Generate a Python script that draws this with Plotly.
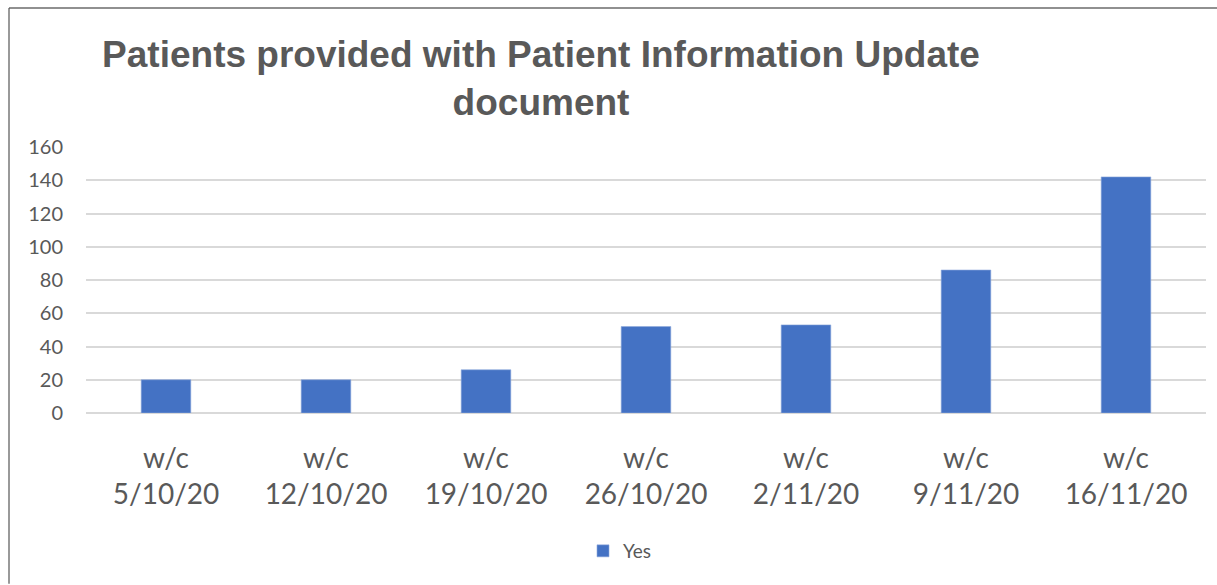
import plotly.graph_objects as go

categories = ["w/c<br>5/10/20", "w/c<br>12/10/20", "w/c<br>19/10/20", "w/c<br>26/10/20",
              "w/c<br>2/11/20", "w/c<br>9/11/20", "w/c<br>16/11/20"]
yes_values = [20, 20, 26, 52, 53, 86, 142]
y_ticks = [0, 20, 40, 60, 80, 100, 120, 140, 160]

W, H = 1217, 585
L, R, T, B = 86, 11, 146.5, 171.5
pw, ph = W - L - R, H - T - B

fig = go.Figure()
fig.add_trace(go.Bar(
    x=categories, y=yes_values, name="Yes",
    marker=dict(color="#4472C4", line=dict(color="#8EA9DB", width=0.6)),
    width=0.31,
))

def px_x(x):
    return (x - L) / pw

def px_y(y):
    return (H - B - y) / ph

fig.update_layout(
    width=W, height=H,
    margin=dict(l=L, r=R, t=T, b=B),
    paper_bgcolor="white", plot_bgcolor="white",
    font=dict(family="Lato", color="#595959"),
    title=dict(
        text="Patients provided with Patient Information Update<br>document",
        font=dict(family="Liberation Sans", size=37, color="#595959", weight="bold"),
        x=541 / W, xanchor="center", xref="container",
        y=1 - 67 / H, yanchor="top", yref="container",
    ),
    showlegend=True,
    legend=dict(
        orientation="h", x=px_x(620), xanchor="center", y=px_y(552), yanchor="middle",
        font=dict(size=19, color="#595959", family="Lato"),
        itemwidth=30,
    ),
    xaxis=dict(
        showgrid=False, showline=False, ticks="",
        tickfont=dict(size=28, color="#595959", family="Lato"),
        ticklabelstandoff=26,
    ),
    yaxis=dict(
        range=[0, 160], tickvals=y_ticks, showgrid=True, gridcolor="#D9D9D9", gridwidth=1.5,
        zeroline=True, zerolinecolor="#D9D9D9", zerolinewidth=1.5,
        tickfont=dict(size=20, color="#595959", family="Lato"),
        ticklabelstandoff=22,
    ),
    shapes=[
        dict(type="line", xref="paper", yref="paper", x0=px_x(9), x1=px_x(W), y0=px_y(7), y1=px_y(7),
             line=dict(color="#222222", width=1.2)),
        dict(type="line", xref="paper", yref="paper", x0=px_x(9), x1=px_x(9), y0=px_y(7), y1=px_y(H),
             line=dict(color="#555555", width=1.2)),
    ],
)

fig.write_html("out.html", config={"displayModeBar": False},
               post_script="document.body.style.margin='0px';")
